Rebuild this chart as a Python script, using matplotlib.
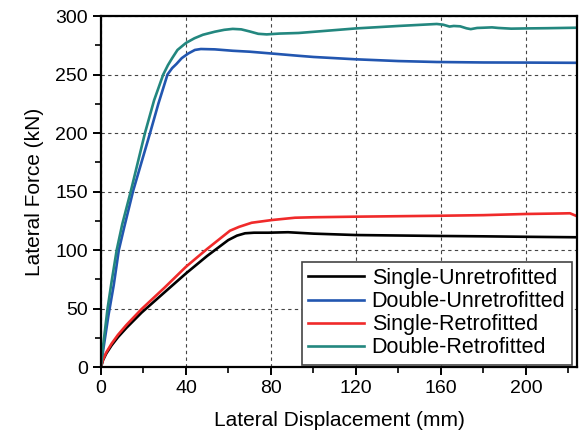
import matplotlib
matplotlib.use("Agg")
import matplotlib.pyplot as plt
from matplotlib.ticker import MultipleLocator

plt.rcParams['font.family'] = ['Liberation Sans', 'DejaVu Sans']

# data
x_su = [0, 1, 2.5, 5, 8, 12, 19.1, 30, 40, 50, 59.9, 64, 67.8, 72, 78.7, 88, 100, 120, 140, 160, 180, 200, 224]
y_su = [0, 6, 11.5, 18.5, 25.5, 33.5, 46.5, 64, 80, 95, 108.5, 112.3, 114.3, 114.8, 114.8, 115.2, 114, 112.8, 112.4, 112, 111.7, 111.3, 110.9]

x_du = [0, 1, 3.5, 6, 8.4, 11, 15.2, 23.1, 27, 31.3, 33.5, 35.5, 38, 41.1, 44.2, 47, 53.6, 62, 70, 80, 93, 100, 120, 140, 158, 180, 200, 224]
y_du = [0, 14, 44, 70, 100, 120, 151, 200, 225, 250, 255.5, 259, 264, 268, 271, 271.8, 271.5, 270.3, 269.5, 268, 266, 265, 263, 261.5, 260.7, 260.3, 260.2, 260]

x_sr = [0, 1, 2.5, 5, 8, 12, 19.1, 30, 40, 50, 60.7, 65, 70.9, 80.3, 91.3, 100, 120, 140, 160, 180, 200, 215, 220.7, 224]
y_sr = [0, 6.5, 12.5, 20, 27.5, 36, 49.5, 68, 85.7, 101, 116.5, 119.8, 123.3, 125.6, 127.6, 128, 128.5, 128.9, 129.3, 129.8, 130.8, 131.2, 131.4, 128.9]

x_dr = [0, 1, 3.1, 5, 7.4, 10, 14, 20.7, 25, 29.3, 31.5, 33.5, 36, 40, 44, 48, 53.6, 58, 62, 66, 70, 74, 78, 84, 93, 100, 120, 140,
        158, 161, 164, 166, 169, 172, 174, 177, 180, 184, 187, 190, 193, 200, 210, 224]
y_dr = [0, 18, 50, 73, 100, 122, 150, 200, 228, 250, 258, 264, 271, 277, 281, 284, 286.6, 288.2, 289, 288.6, 286.8, 284.8, 284.3, 285, 285.5, 286.5, 289.4, 291.5,
        293.2, 292.6, 291, 291.5, 291.2, 289.5, 288.8, 289.8, 290, 290.3, 289.8, 289.5, 289.2, 289.4, 289.6, 290]

labels = ['Single-Unretrofitted', 'Double-Unretrofitted', 'Single-Retrofitted', 'Double-Retrofitted']
colors = ['#000000', '#2256b0', '#f02a2a', '#23877f']

fig = plt.figure(figsize=(5.82, 4.33), dpi=100)
ax = fig.add_axes([0.1735, 0.1524, 0.8179, 0.8106])

for xs, ys, lab, c in zip([x_su, x_du, x_sr, x_dr], [y_su, y_du, y_sr, y_dr], labels, colors):
    ax.plot(xs, ys, color=c, linewidth=1.9, label=lab)

ax.set_xlim(0, 224)
ax.set_ylim(0, 300)
ax.xaxis.set_major_locator(MultipleLocator(40))
ax.xaxis.set_minor_locator(MultipleLocator(20))
ax.yaxis.set_major_locator(MultipleLocator(50))
ax.yaxis.set_minor_locator(MultipleLocator(25))

ax.grid(True, which='major', linestyle=(0, (3, 3)), color='#444444', linewidth=0.8)
ax.set_axisbelow(True)

for s in ax.spines.values():
    s.set_linewidth(1.6)

ax.tick_params(which='major', direction='out', length=6, width=1.4, labelsize=14, top=False, right=False)
ax.tick_params(which='minor', direction='out', length=4, width=1.2, top=False, right=False)

ax.set_xlabel('Lateral Displacement (mm)', fontsize=15, labelpad=10)
ax.set_ylabel('Lateral Force (kN)', fontsize=15, labelpad=8)

leg = ax.legend(loc='lower right', fontsize=15.5, frameon=True, fancybox=False,
                handlelength=2.6, handletextpad=0.35, borderpad=0.3, labelspacing=0.1,
                borderaxespad=0, bbox_to_anchor=(0.989, 0.006))
leg.get_frame().set_edgecolor('#444444')
leg.get_frame().set_linewidth(1.2)
leg.get_frame().set_alpha(1)

fig.savefig('out.png', dpi=100)
